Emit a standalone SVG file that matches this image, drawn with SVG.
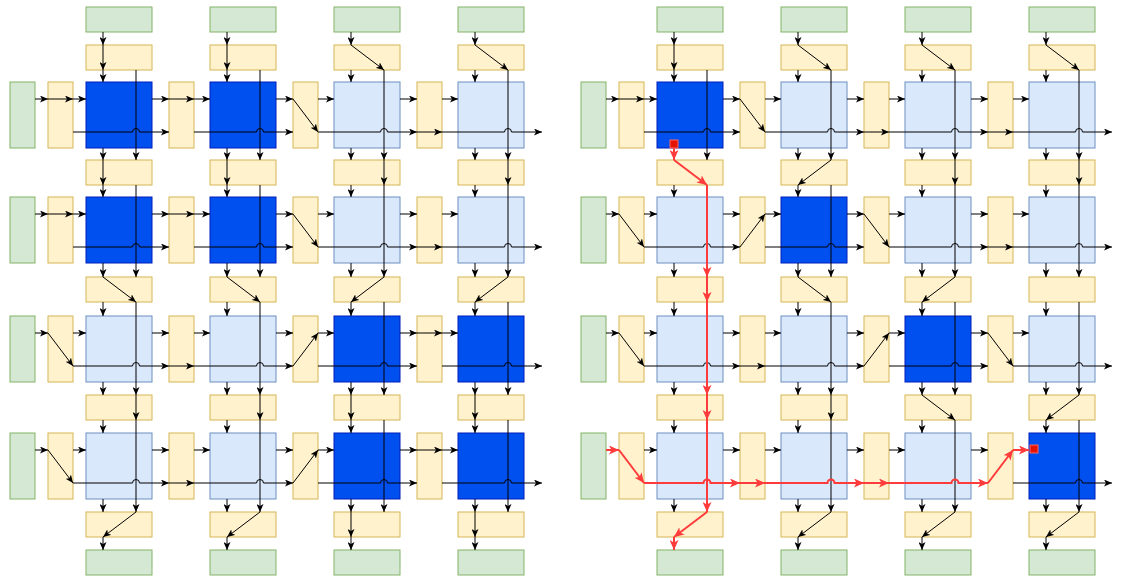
<svg xmlns="http://www.w3.org/2000/svg" width="1122" height="578" viewBox="0 0 1122 578">
<style>
  .src{fill:#d5e8d4;stroke:#82b366;stroke-width:1}
  .mux{fill:#fff2cc;stroke:#d6b656;stroke-width:1}
  .pe{fill:#dae8fc;stroke:#6c8ebf;stroke-width:1}
  .on{fill:#0050ef;stroke:#001dbc;stroke-width:1}
  .mark{fill:#e51400;stroke:#ff6666;stroke-width:1}
  .w path{fill:none;stroke:#000;stroke-width:1;marker-end:url(#ah)}
  .hot path{fill:none;stroke:#ff3b3b;stroke-width:2;marker-end:url(#ahr)}
</style>
<defs>
  <marker id="ah" viewBox="0 0 8 7" refX="8" refY="3.5" markerWidth="8" markerHeight="7" markerUnits="userSpaceOnUse" orient="auto">
    <path d="M0 0L8 3.5L0 7L2 3.5z" fill="#000"/>
  </marker>
  <marker id="ahr" viewBox="0 0 10 9" refX="10" refY="4.5" markerWidth="10" markerHeight="9" markerUnits="userSpaceOnUse" orient="auto">
    <path d="M0 0L10 4.5L0 9L2.5 4.5z" fill="#ff3b3b"/>
  </marker>
</defs>
<rect width="1122" height="578" fill="#fff"/>

<!-- ===== Fabric A ===== -->
<g id="fabricA">
  <g id="a-top-1"><rect class="src" x="86" y="7" width="66" height="25"/></g>
  <g id="a-top-2"><rect class="src" x="210" y="7" width="66" height="25"/></g>
  <g id="a-top-3"><rect class="src" x="334" y="7" width="66" height="25"/></g>
  <g id="a-top-4"><rect class="src" x="458" y="7" width="66" height="25"/></g>
  <g id="a-bot-1"><rect class="src" x="86" y="550" width="66" height="25"/></g>
  <g id="a-bot-2"><rect class="src" x="210" y="550" width="66" height="25"/></g>
  <g id="a-bot-3"><rect class="src" x="334" y="550" width="66" height="25"/></g>
  <g id="a-bot-4"><rect class="src" x="458" y="550" width="66" height="25"/></g>
  <g id="a-left-1"><rect class="src" x="10" y="82" width="25" height="66"/></g>
  <g id="a-left-2"><rect class="src" x="10" y="197" width="25" height="66"/></g>
  <g id="a-left-3"><rect class="src" x="10" y="316" width="25" height="66"/></g>
  <g id="a-left-4"><rect class="src" x="10" y="433" width="25" height="66"/></g>

  <g id="a-vm-0-1"><rect class="mux" x="86" y="45" width="66" height="25"/></g>
  <g id="a-vm-0-2"><rect class="mux" x="210" y="45" width="66" height="25"/></g>
  <g id="a-vm-0-3"><rect class="mux" x="334" y="45" width="66" height="25"/></g>
  <g id="a-vm-0-4"><rect class="mux" x="458" y="45" width="66" height="25"/></g>
  <g id="a-vm-1-1"><rect class="mux" x="86" y="160" width="66" height="25"/></g>
  <g id="a-vm-1-2"><rect class="mux" x="210" y="160" width="66" height="25"/></g>
  <g id="a-vm-1-3"><rect class="mux" x="334" y="160" width="66" height="25"/></g>
  <g id="a-vm-1-4"><rect class="mux" x="458" y="160" width="66" height="25"/></g>
  <g id="a-vm-2-1"><rect class="mux" x="86" y="277" width="66" height="25"/></g>
  <g id="a-vm-2-2"><rect class="mux" x="210" y="277" width="66" height="25"/></g>
  <g id="a-vm-2-3"><rect class="mux" x="334" y="277" width="66" height="25"/></g>
  <g id="a-vm-2-4"><rect class="mux" x="458" y="277" width="66" height="25"/></g>
  <g id="a-vm-3-1"><rect class="mux" x="86" y="395" width="66" height="25"/></g>
  <g id="a-vm-3-2"><rect class="mux" x="210" y="395" width="66" height="25"/></g>
  <g id="a-vm-3-3"><rect class="mux" x="334" y="395" width="66" height="25"/></g>
  <g id="a-vm-3-4"><rect class="mux" x="458" y="395" width="66" height="25"/></g>
  <g id="a-vm-4-1"><rect class="mux" x="86" y="512" width="66" height="25"/></g>
  <g id="a-vm-4-2"><rect class="mux" x="210" y="512" width="66" height="25"/></g>
  <g id="a-vm-4-3"><rect class="mux" x="334" y="512" width="66" height="25"/></g>
  <g id="a-vm-4-4"><rect class="mux" x="458" y="512" width="66" height="25"/></g>

  <g id="a-hm-1-0"><rect class="mux" x="48" y="82" width="25" height="66"/></g>
  <g id="a-hm-1-1"><rect class="mux" x="169" y="82" width="25" height="66"/></g>
  <g id="a-hm-1-2"><rect class="mux" x="293" y="82" width="25" height="66"/></g>
  <g id="a-hm-1-3"><rect class="mux" x="417" y="82" width="25" height="66"/></g>
  <g id="a-hm-2-0"><rect class="mux" x="48" y="197" width="25" height="66"/></g>
  <g id="a-hm-2-1"><rect class="mux" x="169" y="197" width="25" height="66"/></g>
  <g id="a-hm-2-2"><rect class="mux" x="293" y="197" width="25" height="66"/></g>
  <g id="a-hm-2-3"><rect class="mux" x="417" y="197" width="25" height="66"/></g>
  <g id="a-hm-3-0"><rect class="mux" x="48" y="316" width="25" height="66"/></g>
  <g id="a-hm-3-1"><rect class="mux" x="169" y="316" width="25" height="66"/></g>
  <g id="a-hm-3-2"><rect class="mux" x="293" y="316" width="25" height="66"/></g>
  <g id="a-hm-3-3"><rect class="mux" x="417" y="316" width="25" height="66"/></g>
  <g id="a-hm-4-0"><rect class="mux" x="48" y="433" width="25" height="66"/></g>
  <g id="a-hm-4-1"><rect class="mux" x="169" y="433" width="25" height="66"/></g>
  <g id="a-hm-4-2"><rect class="mux" x="293" y="433" width="25" height="66"/></g>
  <g id="a-hm-4-3"><rect class="mux" x="417" y="433" width="25" height="66"/></g>

  <g id="a-pe-1-1"><rect class="on" x="86" y="82" width="66" height="66"/></g>
  <g id="a-pe-1-2"><rect class="on" x="210" y="82" width="66" height="66"/></g>
  <g id="a-pe-1-3"><rect class="pe" x="334" y="82" width="66" height="66"/></g>
  <g id="a-pe-1-4"><rect class="pe" x="458" y="82" width="66" height="66"/></g>
  <g id="a-pe-2-1"><rect class="on" x="86" y="197" width="66" height="66"/></g>
  <g id="a-pe-2-2"><rect class="on" x="210" y="197" width="66" height="66"/></g>
  <g id="a-pe-2-3"><rect class="pe" x="334" y="197" width="66" height="66"/></g>
  <g id="a-pe-2-4"><rect class="pe" x="458" y="197" width="66" height="66"/></g>
  <g id="a-pe-3-1"><rect class="pe" x="86" y="316" width="66" height="66"/></g>
  <g id="a-pe-3-2"><rect class="pe" x="210" y="316" width="66" height="66"/></g>
  <g id="a-pe-3-3"><rect class="on" x="334" y="316" width="66" height="66"/></g>
  <g id="a-pe-3-4"><rect class="on" x="458" y="316" width="66" height="66"/></g>
  <g id="a-pe-4-1"><rect class="pe" x="86" y="433" width="66" height="66"/></g>
  <g id="a-pe-4-2"><rect class="pe" x="210" y="433" width="66" height="66"/></g>
  <g id="a-pe-4-3"><rect class="on" x="334" y="433" width="66" height="66"/></g>
  <g id="a-pe-4-4"><rect class="on" x="458" y="433" width="66" height="66"/></g>
</g>

<!-- ===== Fabric B ===== -->
<g id="fabricB">
  <g id="b-top-1"><rect class="src" x="657" y="7" width="66" height="25"/></g>
  <g id="b-top-2"><rect class="src" x="781" y="7" width="66" height="25"/></g>
  <g id="b-top-3"><rect class="src" x="905" y="7" width="66" height="25"/></g>
  <g id="b-top-4"><rect class="src" x="1029" y="7" width="66" height="25"/></g>
  <g id="b-bot-1"><rect class="src" x="657" y="550" width="66" height="25"/></g>
  <g id="b-bot-2"><rect class="src" x="781" y="550" width="66" height="25"/></g>
  <g id="b-bot-3"><rect class="src" x="905" y="550" width="66" height="25"/></g>
  <g id="b-bot-4"><rect class="src" x="1029" y="550" width="66" height="25"/></g>
  <g id="b-left-1"><rect class="src" x="581" y="82" width="25" height="66"/></g>
  <g id="b-left-2"><rect class="src" x="581" y="197" width="25" height="66"/></g>
  <g id="b-left-3"><rect class="src" x="581" y="316" width="25" height="66"/></g>
  <g id="b-left-4"><rect class="src" x="581" y="433" width="25" height="66"/></g>

  <g id="b-vm-0-1"><rect class="mux" x="657" y="45" width="66" height="25"/></g>
  <g id="b-vm-0-2"><rect class="mux" x="781" y="45" width="66" height="25"/></g>
  <g id="b-vm-0-3"><rect class="mux" x="905" y="45" width="66" height="25"/></g>
  <g id="b-vm-0-4"><rect class="mux" x="1029" y="45" width="66" height="25"/></g>
  <g id="b-vm-1-1"><rect class="mux" x="657" y="160" width="66" height="25"/></g>
  <g id="b-vm-1-2"><rect class="mux" x="781" y="160" width="66" height="25"/></g>
  <g id="b-vm-1-3"><rect class="mux" x="905" y="160" width="66" height="25"/></g>
  <g id="b-vm-1-4"><rect class="mux" x="1029" y="160" width="66" height="25"/></g>
  <g id="b-vm-2-1"><rect class="mux" x="657" y="277" width="66" height="25"/></g>
  <g id="b-vm-2-2"><rect class="mux" x="781" y="277" width="66" height="25"/></g>
  <g id="b-vm-2-3"><rect class="mux" x="905" y="277" width="66" height="25"/></g>
  <g id="b-vm-2-4"><rect class="mux" x="1029" y="277" width="66" height="25"/></g>
  <g id="b-vm-3-1"><rect class="mux" x="657" y="395" width="66" height="25"/></g>
  <g id="b-vm-3-2"><rect class="mux" x="781" y="395" width="66" height="25"/></g>
  <g id="b-vm-3-3"><rect class="mux" x="905" y="395" width="66" height="25"/></g>
  <g id="b-vm-3-4"><rect class="mux" x="1029" y="395" width="66" height="25"/></g>
  <g id="b-vm-4-1"><rect class="mux" x="657" y="512" width="66" height="25"/></g>
  <g id="b-vm-4-2"><rect class="mux" x="781" y="512" width="66" height="25"/></g>
  <g id="b-vm-4-3"><rect class="mux" x="905" y="512" width="66" height="25"/></g>
  <g id="b-vm-4-4"><rect class="mux" x="1029" y="512" width="66" height="25"/></g>

  <g id="b-hm-1-0"><rect class="mux" x="619" y="82" width="25" height="66"/></g>
  <g id="b-hm-1-1"><rect class="mux" x="740" y="82" width="25" height="66"/></g>
  <g id="b-hm-1-2"><rect class="mux" x="864" y="82" width="25" height="66"/></g>
  <g id="b-hm-1-3"><rect class="mux" x="988" y="82" width="25" height="66"/></g>
  <g id="b-hm-2-0"><rect class="mux" x="619" y="197" width="25" height="66"/></g>
  <g id="b-hm-2-1"><rect class="mux" x="740" y="197" width="25" height="66"/></g>
  <g id="b-hm-2-2"><rect class="mux" x="864" y="197" width="25" height="66"/></g>
  <g id="b-hm-2-3"><rect class="mux" x="988" y="197" width="25" height="66"/></g>
  <g id="b-hm-3-0"><rect class="mux" x="619" y="316" width="25" height="66"/></g>
  <g id="b-hm-3-1"><rect class="mux" x="740" y="316" width="25" height="66"/></g>
  <g id="b-hm-3-2"><rect class="mux" x="864" y="316" width="25" height="66"/></g>
  <g id="b-hm-3-3"><rect class="mux" x="988" y="316" width="25" height="66"/></g>
  <g id="b-hm-4-0"><rect class="mux" x="619" y="433" width="25" height="66"/></g>
  <g id="b-hm-4-1"><rect class="mux" x="740" y="433" width="25" height="66"/></g>
  <g id="b-hm-4-2"><rect class="mux" x="864" y="433" width="25" height="66"/></g>
  <g id="b-hm-4-3"><rect class="mux" x="988" y="433" width="25" height="66"/></g>

  <g id="b-pe-1-1"><rect class="on" x="657" y="82" width="66" height="66"/></g>
  <g id="b-pe-1-2"><rect class="pe" x="781" y="82" width="66" height="66"/></g>
  <g id="b-pe-1-3"><rect class="pe" x="905" y="82" width="66" height="66"/></g>
  <g id="b-pe-1-4"><rect class="pe" x="1029" y="82" width="66" height="66"/></g>
  <g id="b-pe-2-1"><rect class="pe" x="657" y="197" width="66" height="66"/></g>
  <g id="b-pe-2-2"><rect class="on" x="781" y="197" width="66" height="66"/></g>
  <g id="b-pe-2-3"><rect class="pe" x="905" y="197" width="66" height="66"/></g>
  <g id="b-pe-2-4"><rect class="pe" x="1029" y="197" width="66" height="66"/></g>
  <g id="b-pe-3-1"><rect class="pe" x="657" y="316" width="66" height="66"/></g>
  <g id="b-pe-3-2"><rect class="pe" x="781" y="316" width="66" height="66"/></g>
  <g id="b-pe-3-3"><rect class="on" x="905" y="316" width="66" height="66"/></g>
  <g id="b-pe-3-4"><rect class="pe" x="1029" y="316" width="66" height="66"/></g>
  <g id="b-pe-4-1"><rect class="pe" x="657" y="433" width="66" height="66"/></g>
  <g id="b-pe-4-2"><rect class="pe" x="781" y="433" width="66" height="66"/></g>
  <g id="b-pe-4-3"><rect class="pe" x="905" y="433" width="66" height="66"/></g>
  <g id="b-pe-4-4"><rect class="on" x="1029" y="433" width="66" height="66"/></g>
</g>

<!-- ===== Connectors ===== -->
<g id="connectors">
  <g class="w" id="a-links">
    <!-- row 1 -->
    <path d="M35 99H48"/><path d="M48 99H73"/><path d="M73 99H86"/>
    <path d="M152 99H169"/><path d="M169 99H194"/><path d="M194 99H210"/>
    <path d="M276 99H293"/><path d="M293 99L318 132"/><path d="M318 99H334"/>
    <path d="M400 99H417"/><path d="M417 132H442"/><path d="M442 99H458"/>
    <path d="M73 132H132.5A3.5 3.5 0 0 1 139.5 132H169"/>
    <path d="M194 132H256.5A3.5 3.5 0 0 1 263.5 132H293"/>
    <path d="M318 132H380.5A3.5 3.5 0 0 1 387.5 132H417"/>
    <path d="M442 132H504.5A3.5 3.5 0 0 1 511.5 132H542"/>
    <!-- row 2 -->
    <path d="M35 214H48"/><path d="M48 214H73"/><path d="M73 214H86"/>
    <path d="M152 214H169"/><path d="M169 214H194"/><path d="M194 214H210"/>
    <path d="M276 214H293"/><path d="M293 214L318 247"/><path d="M318 214H334"/>
    <path d="M400 214H417"/><path d="M417 247H442"/><path d="M442 214H458"/>
    <path d="M73 247H132.5A3.5 3.5 0 0 1 139.5 247H169"/>
    <path d="M194 247H256.5A3.5 3.5 0 0 1 263.5 247H293"/>
    <path d="M318 247H380.5A3.5 3.5 0 0 1 387.5 247H417"/>
    <path d="M442 247H504.5A3.5 3.5 0 0 1 511.5 247H542"/>
    <!-- row 3 -->
    <path d="M35 333H48"/><path d="M48 333L73 366"/><path d="M73 333H86"/>
    <path d="M152 333H169"/><path d="M169 366H194"/><path d="M194 333H210"/>
    <path d="M276 333H293"/><path d="M293 366L318 333"/><path d="M318 333H334"/>
    <path d="M400 333H417"/><path d="M417 333H442"/><path d="M442 333H458"/>
    <path d="M73 366H132.5A3.5 3.5 0 0 1 139.5 366H169"/>
    <path d="M194 366H256.5A3.5 3.5 0 0 1 263.5 366H293"/>
    <path d="M318 366H380.5A3.5 3.5 0 0 1 387.5 366H417"/>
    <path d="M442 366H504.5A3.5 3.5 0 0 1 511.5 366H542"/>
    <!-- row 4 -->
    <path d="M35 450H48"/><path d="M48 450L73 483"/><path d="M73 450H86"/>
    <path d="M152 450H169"/><path d="M169 483H194"/><path d="M194 450H210"/>
    <path d="M276 450H293"/><path d="M293 483L318 450"/><path d="M318 450H334"/>
    <path d="M400 450H417"/><path d="M417 450H442"/><path d="M442 450H458"/>
    <path d="M73 483H132.5A3.5 3.5 0 0 1 139.5 483H169"/>
    <path d="M194 483H256.5A3.5 3.5 0 0 1 263.5 483H293"/>
    <path d="M318 483H380.5A3.5 3.5 0 0 1 387.5 483H417"/>
    <path d="M442 483H504.5A3.5 3.5 0 0 1 511.5 483H542"/>
    <!-- column 1 -->
    <path d="M103 32V45"/><path d="M103 45V70"/><path d="M103 70V82"/><path d="M136 70V160"/>
    <path d="M103 148V160"/><path d="M103 160V185"/><path d="M103 185V197"/><path d="M136 185V277"/>
    <path d="M103 263V277"/><path d="M103 277L136 302"/><path d="M103 302V316"/><path d="M136 302V395"/>
    <path d="M103 382V395"/><path d="M136 395V420"/><path d="M103 420V433"/><path d="M136 420V512"/>
    <path d="M103 499V512"/><path d="M136 512L103 537"/><path d="M103 537V550"/>
    <!-- column 2 -->
    <path d="M227 32V45"/><path d="M227 45V70"/><path d="M227 70V82"/><path d="M260 70V160"/>
    <path d="M227 148V160"/><path d="M227 160V185"/><path d="M227 185V197"/><path d="M260 185V277"/>
    <path d="M227 263V277"/><path d="M227 277L260 302"/><path d="M227 302V316"/><path d="M260 302V395"/>
    <path d="M227 382V395"/><path d="M260 395V420"/><path d="M227 420V433"/><path d="M260 420V512"/>
    <path d="M227 499V512"/><path d="M260 512L227 537"/><path d="M227 537V550"/>
    <!-- column 3 -->
    <path d="M351 32V45"/><path d="M351 45L384 70"/><path d="M351 70V82"/><path d="M384 70V160"/>
    <path d="M351 148V160"/><path d="M384 160V185"/><path d="M351 185V197"/><path d="M384 185V277"/>
    <path d="M351 263V277"/><path d="M384 277L351 302"/><path d="M351 302V316"/><path d="M384 302V395"/>
    <path d="M351 382V395"/><path d="M351 395V420"/><path d="M351 420V433"/><path d="M384 420V512"/>
    <path d="M351 499V512"/><path d="M351 512V537"/><path d="M351 537V550"/>
    <!-- column 4 -->
    <path d="M475 32V45"/><path d="M475 45L508 70"/><path d="M475 70V82"/><path d="M508 70V160"/>
    <path d="M475 148V160"/><path d="M508 160V185"/><path d="M475 185V197"/><path d="M508 185V277"/>
    <path d="M475 263V277"/><path d="M508 277L475 302"/><path d="M475 302V316"/><path d="M508 302V395"/>
    <path d="M475 382V395"/><path d="M475 395V420"/><path d="M475 420V433"/><path d="M508 420V512"/>
    <path d="M475 499V512"/><path d="M475 512V537"/><path d="M475 537V550"/>
  </g>

  <g class="w" id="b-links">
    <!-- row 1 -->
    <path d="M606 99H619"/><path d="M619 99H644"/><path d="M644 99H657"/>
    <path d="M723 99H740"/><path d="M740 99L765 132"/><path d="M765 99H781"/>
    <path d="M847 99H864"/><path d="M864 132H889"/><path d="M889 99H905"/>
    <path d="M971 99H988"/><path d="M988 132H1013"/><path d="M1013 99H1029"/>
    <path d="M644 132H703.5A3.5 3.5 0 0 1 710.5 132H740"/>
    <path d="M765 132H827.5A3.5 3.5 0 0 1 834.5 132H864"/>
    <path d="M889 132H951.5A3.5 3.5 0 0 1 958.5 132H988"/>
    <path d="M1013 132H1075.5A3.5 3.5 0 0 1 1082.5 132H1112"/>
    <!-- row 2 -->
    <path d="M606 214H619"/><path d="M619 214L644 247"/><path d="M644 214H657"/>
    <path d="M723 214H740"/><path d="M740 247L765 214"/><path d="M765 214H781"/>
    <path d="M847 214H864"/><path d="M864 214L889 247"/><path d="M889 214H905"/>
    <path d="M971 214H988"/><path d="M988 247H1013"/><path d="M1013 214H1029"/>
    <path d="M644 247H703.5A3.5 3.5 0 0 1 710.5 247H740"/>
    <path d="M765 247H827.5A3.5 3.5 0 0 1 834.5 247H864"/>
    <path d="M889 247H951.5A3.5 3.5 0 0 1 958.5 247H988"/>
    <path d="M1013 247H1075.5A3.5 3.5 0 0 1 1082.5 247H1112"/>
    <!-- row 3 -->
    <path d="M606 333H619"/><path d="M619 333L644 366"/><path d="M644 333H657"/>
    <path d="M723 333H740"/><path d="M740 366H765"/><path d="M765 333H781"/>
    <path d="M847 333H864"/><path d="M864 366L889 333"/><path d="M889 333H905"/>
    <path d="M971 333H988"/><path d="M988 333L1013 366"/><path d="M1013 333H1029"/>
    <path d="M644 366H703.5A3.5 3.5 0 0 1 710.5 366H740"/>
    <path d="M765 366H827.5A3.5 3.5 0 0 1 834.5 366H864"/>
    <path d="M889 366H951.5A3.5 3.5 0 0 1 958.5 366H988"/>
    <path d="M1013 366H1075.5A3.5 3.5 0 0 1 1082.5 366H1112"/>
    <!-- row 4 (idle branches) -->
    <path d="M644 450H657"/><path d="M723 450H740"/><path d="M765 450H781"/>
    <path d="M847 450H864"/><path d="M889 450H905"/><path d="M971 450H988"/>
    <path d="M1013 483H1075.5A3.5 3.5 0 0 1 1082.5 483H1112"/>
    <!-- column 1 (idle branches) -->
    <path d="M674 32V45"/><path d="M674 45V70"/><path d="M674 70V82"/><path d="M707 70V160"/>
    <path d="M674 185V197"/><path d="M674 263V277"/><path d="M674 302V316"/>
    <path d="M674 382V395"/><path d="M674 420V433"/><path d="M674 499V512"/>
    <!-- column 2 -->
    <path d="M798 32V45"/><path d="M798 45L831 70"/><path d="M798 70V82"/><path d="M831 70V160"/>
    <path d="M798 148V160"/><path d="M831 160L798 185"/><path d="M798 185V197"/><path d="M831 185V277"/>
    <path d="M798 263V277"/><path d="M798 277L831 302"/><path d="M798 302V316"/><path d="M831 302V395"/>
    <path d="M798 382V395"/><path d="M831 395V420"/><path d="M798 420V433"/><path d="M831 420V512"/>
    <path d="M798 499V512"/><path d="M831 512L798 537"/><path d="M798 537V550"/>
    <!-- column 3 -->
    <path d="M922 32V45"/><path d="M922 45L955 70"/><path d="M922 70V82"/><path d="M955 70V160"/>
    <path d="M922 148V160"/><path d="M955 160V185"/><path d="M922 185V197"/><path d="M955 185V277"/>
    <path d="M922 263V277"/><path d="M955 277L922 302"/><path d="M922 302V316"/><path d="M955 302V395"/>
    <path d="M922 382V395"/><path d="M922 395L955 420"/><path d="M922 420V433"/><path d="M955 420V512"/>
    <path d="M922 499V512"/><path d="M955 512L922 537"/><path d="M922 537V550"/>
    <!-- column 4 -->
    <path d="M1046 32V45"/><path d="M1046 45L1079 70"/><path d="M1046 70V82"/><path d="M1079 70V160"/>
    <path d="M1046 148V160"/><path d="M1079 160V185"/><path d="M1046 185V197"/><path d="M1079 185V277"/>
    <path d="M1046 263V277"/><path d="M1046 302V316"/><path d="M1079 302V395"/>
    <path d="M1046 382V395"/><path d="M1079 395L1046 420"/><path d="M1046 420V433"/><path d="M1079 420V512"/>
    <path d="M1046 499V512"/><path d="M1079 512L1046 537"/><path d="M1046 537V550"/>
  </g>

  <!-- highlighted routes -->
  <g class="hot" id="b-route">
    <path d="M674 148V160"/><path d="M674 160L707 185"/><path d="M707 185V277"/>
    <path d="M707 277V302"/><path d="M707 302V395"/><path d="M707 395V420"/>
    <path d="M707 420V512"/><path d="M707 512L674 537"/><path d="M674 537V550"/>
    <path d="M606 450H619"/><path d="M619 450L644 483"/>
    <path d="M644 483H703.5A3.5 3.5 0 0 1 710.5 483H740"/><path d="M740 483H765"/>
    <path d="M765 483H827.5A3.5 3.5 0 0 1 834.5 483H864"/><path d="M864 483H889"/>
    <path d="M889 483H951.5A3.5 3.5 0 0 1 958.5 483H988"/>
    <path d="M988 483L1013 450"/><path d="M1013 450H1029"/>
  </g>
</g>

<g id="b-mark-src"><rect class="mark" x="670" y="140" width="8" height="8"/></g>
<g id="b-mark-dst"><rect class="mark" x="1030" y="445" width="8" height="8"/></g>
</svg>
